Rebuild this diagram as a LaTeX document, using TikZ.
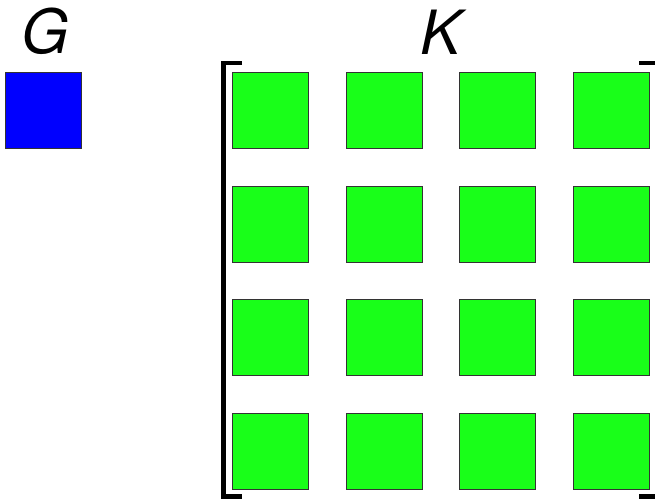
\documentclass[tikz,border=0pt]{standalone}
\usepackage{fontspec}
\setmainfont{TeX Gyre Heros}
\begin{document}
\begin{tikzpicture}[x=1pt,y=1pt,
  cell/.style={draw=black!80, line width=0.9pt, minimum size=76pt, inner sep=0pt, outer sep=0pt},
  gcell/.style={cell, fill={rgb,255:red,25;green,255;blue,25}},
  bcell/.style={cell, fill={rgb,255:red,0;green,0;blue,255}},
  lab/.style={font=\fontsize{61}{61}\selectfont\itshape, inner sep=0pt, anchor=base},
  brk/.style={line width=4.5pt, line cap=butt}]
\useasboundingbox (0,0) rectangle (655,499);
\clip (0,0) rectangle (655,499);
\node[bcell] (g) at (43.5,388.5) {};
\node[lab] (gl) at (45,445.5) {G};
\foreach \i in {0,...,3}{
  \foreach \j in {0,...,3}{
    \node[gcell] (k\i\j) at ({270.5+113.5*\j},{388.5-113.5*\i}) {};
  }
}
\node[lab] (kl) at (441,444) {K};
\draw[brk] (242,436) -- (223.5,436) -- (223.5,2.5) -- (242,2.5);
\draw[brk] (639,436) -- (659,436) -- (659,2.5) -- (639,2.5);
\end{tikzpicture}
\end{document}
